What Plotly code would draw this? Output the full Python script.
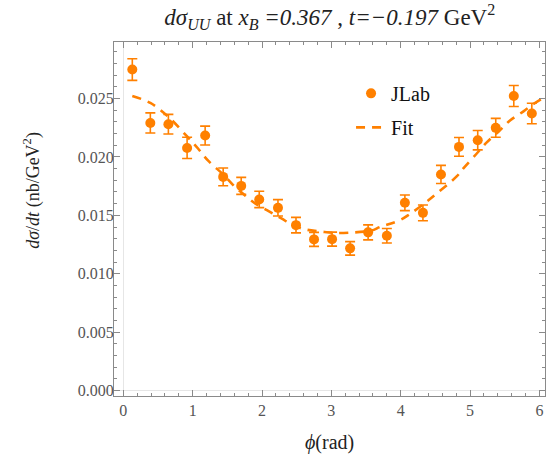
import plotly.graph_objects as go

# JLab data (phi in rad, dsigma/dt in nb/GeV^2)
phi_data = [0.13, 0.39, 0.65, 0.92, 1.18, 1.44, 1.70, 1.96, 2.23, 2.49, 2.75, 3.01,
            3.27, 3.53, 3.80, 4.06, 4.32, 4.58, 4.84, 5.11, 5.37, 5.63, 5.89]
xs_data = [0.02748, 0.02291, 0.02280, 0.02077, 0.02183, 0.01829, 0.01752, 0.01636,
           0.01564, 0.01416, 0.01294, 0.01296, 0.01217, 0.01354, 0.01325, 0.01607,
           0.01521, 0.01850, 0.02086, 0.02143, 0.02249, 0.02522, 0.02372]
err_data = [0.00093, 0.00086, 0.00084, 0.00091, 0.00081, 0.00076, 0.00073, 0.00070,
            0.00070, 0.00066, 0.00060, 0.00060, 0.00058, 0.00064, 0.00062, 0.00067,
            0.00068, 0.00078, 0.00080, 0.00083, 0.00081, 0.00090, 0.00088]

# Fit curve
phi_fit = [0.13, 0.39, 0.65, 0.92, 1.08, 1.22, 1.45, 1.61, 1.78, 1.90, 2.07, 2.28,
           2.43, 2.55, 2.65, 2.86, 3.03, 3.27, 3.58, 3.70, 3.99, 4.13, 4.37, 4.52,
           4.81, 4.90, 5.09, 5.24, 5.43, 5.58, 5.77, 5.91, 6.09, 6.20]
xs_fit = [0.02522, 0.02462, 0.02343, 0.02175, 0.02070, 0.01970, 0.01844, 0.01744,
          0.01658, 0.01602, 0.01544, 0.01473, 0.01420, 0.01392, 0.01376, 0.01360,
          0.01350, 0.01352, 0.01370, 0.01400, 0.01459, 0.01510, 0.01615, 0.01687,
          0.01835, 0.01900, 0.02025, 0.02125, 0.02229, 0.02314, 0.02390, 0.02452,
          0.02514, 0.02530]

x_ticks = [0, 1, 2, 3, 4, 5, 6]
y_ticks = [0.000, 0.005, 0.010, 0.015, 0.020, 0.025]

ORANGE = "#ff8000"
SERIF = "'Liberation Serif', 'Times New Roman', serif"
TICKFONT = dict(family=SERIF, size=16, color="#555555")

fig = go.Figure()
fig.add_trace(go.Scatter(
    x=phi_data, y=xs_data, mode="markers", name="JLab", legendgroup="a",
    marker=dict(color=ORANGE, size=10),
    error_y=dict(type="data", array=err_data, color=ORANGE, thickness=1.6, width=5),
))
fig.add_trace(go.Scatter(
    x=phi_fit, y=xs_fit, mode="lines", name="Fit", line_shape="spline", legendgroup="b",
    line=dict(color=ORANGE, width=2.6, dash="9px,7px"),
))

axis_common = dict(
    showline=True, linecolor="#8a8a8a", linewidth=1, mirror="ticks",
    ticks="inside", ticklen=6, tickcolor="#8a8a8a", tickwidth=1,
    showgrid=False, zeroline=True, zerolinecolor="#e6e6e6", zerolinewidth=1,
)

fig.update_xaxes(
    range=[-0.134, 6.08], tickvals=x_ticks, ticktext=[str(v) for v in x_ticks],
    tickfont=TICKFONT,
    minor=dict(ticks="inside", dtick=0.2, ticklen=3, tickcolor="#8a8a8a", showgrid=False),
    **axis_common,
)
fig.update_yaxes(
    range=[-0.00047, 0.02984], tickvals=y_ticks, ticktext=[f"{v:.3f}" for v in y_ticks],
    tickfont=TICKFONT, ticklabelstandoff=-4,
    minor=dict(ticks="inside", dtick=0.001, ticklen=3, tickcolor="#8a8a8a", showgrid=False),
    **axis_common,
)

fig.update_layout(
    width=546, height=455,
    margin=dict(l=114, r=1, t=42, b=59),
    paper_bgcolor="white", plot_bgcolor="white",
    font=dict(family=SERIF, color="#222222"),
    title=dict(
        text="<i>dσ</i><sub><i>UU</i></sub> at <i>x</i><sub><i>B</i></sub> <i>=0.367</i> , "
             "<i>t=−0.197</i> GeV<sup>2</sup>",
        x=0.604, xanchor="center", y=0.963, yanchor="middle",
        font=dict(family=SERIF, size=23, color="#222222"),
    ),
    showlegend=True,
    legend=dict(
        x=0.55, y=0.91, xanchor="left", yanchor="top",
        bgcolor="rgba(0,0,0,0)", borderwidth=0,
        font=dict(family=SERIF, size=20, color="#111111"),
        itemwidth=30, tracegroupgap=5,
    ),
    annotations=[
        dict(text="<i>ϕ</i>(rad)", xref="paper", yref="paper", x=0.5, y=-0.13,
             xanchor="center", yanchor="middle", showarrow=False,
             font=dict(family=SERIF, size=20, color="#222222")),
        dict(text="<i>dσ</i>/<i>dt</i> (nb/GeV<sup>2</sup>)", xref="paper", yref="paper",
             x=-0.19, y=0.58, xanchor="center", yanchor="middle", textangle=-90,
             showarrow=False, font=dict(family=SERIF, size=18, color="#222222")),
    ],
)

fig.write_html("out.html", config={"displayModeBar": False},
               post_script="document.body.style.margin='0';")
